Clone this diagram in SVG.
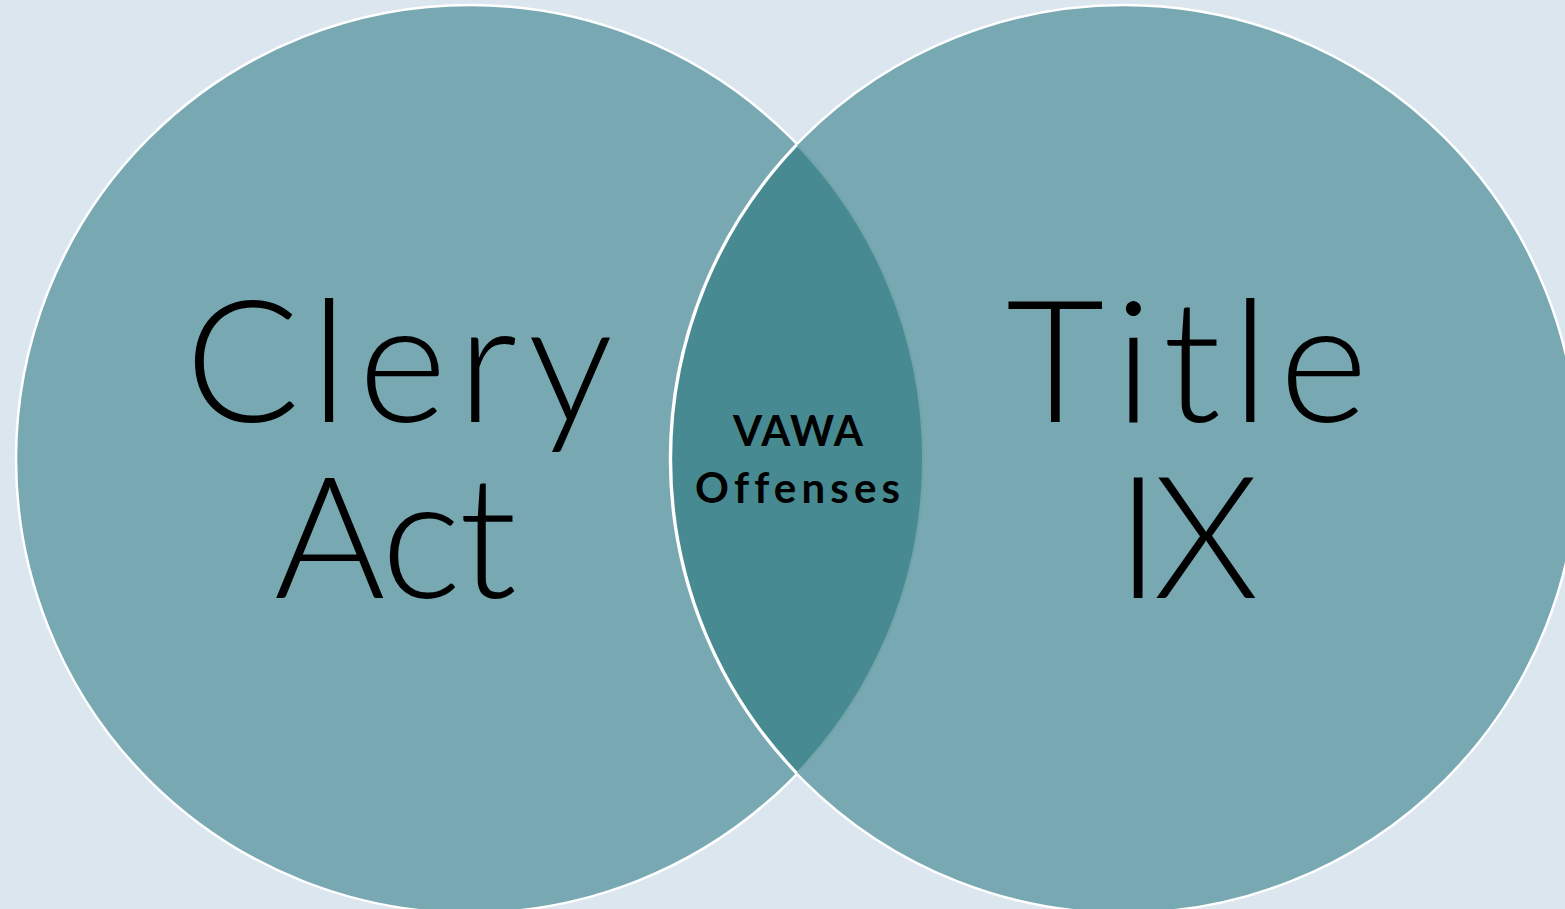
<svg xmlns="http://www.w3.org/2000/svg" width="1565" height="909" viewBox="0 0 1565 909">
<style>
.circ{fill:#78a8b1;stroke:#ffffff;stroke-width:2.5}
.big{font-family:Lato,"Liberation Sans",sans-serif;font-weight:300;font-size:170px;fill:#000}
.small{font-family:Lato,"Liberation Sans",sans-serif;font-weight:700;font-size:42px;fill:#000;font-variant-ligatures:none}
</style>
<rect x="0" y="0" width="1565" height="909" fill="#dce6ef"/>
<g id="clery">
<circle class="circ" cx="470" cy="459" r="454"/>
</g>
<g id="title-ix">
<circle class="circ" cx="1124" cy="459" r="454"/>
</g>
<g id="vawa">
<path d="M797,145 A454,454 0 0 0 797,773 A454,454 0 0 0 797,145 Z" fill="#478a91"/>
<path d="M797,773 A454,454 0 0 0 797,145" fill="none" stroke="#72a4ac" stroke-width="2"/>
<path d="M797,145 A454,454 0 0 0 797,773" fill="none" stroke="#ffffff" stroke-width="2.5"/>
<text class="small" x="733" y="446" textLength="130" lengthAdjust="spacing">VAWA</text>
<text class="small" x="695" y="503" textLength="205" lengthAdjust="spacing">Offenses</text>
</g>
<g id="labels">
<text class="big" x="185" y="422" textLength="428" lengthAdjust="spacing">Clery</text>
<text class="big" x="274" y="598" textLength="243" lengthAdjust="spacing">Act</text>
<text class="big" x="1006" y="422" textLength="362" lengthAdjust="spacing">Title</text>
<text class="big" x="1116" y="598" textLength="143" lengthAdjust="spacing">IX</text>
</g>
<g id="connectors"></g>
</svg>
